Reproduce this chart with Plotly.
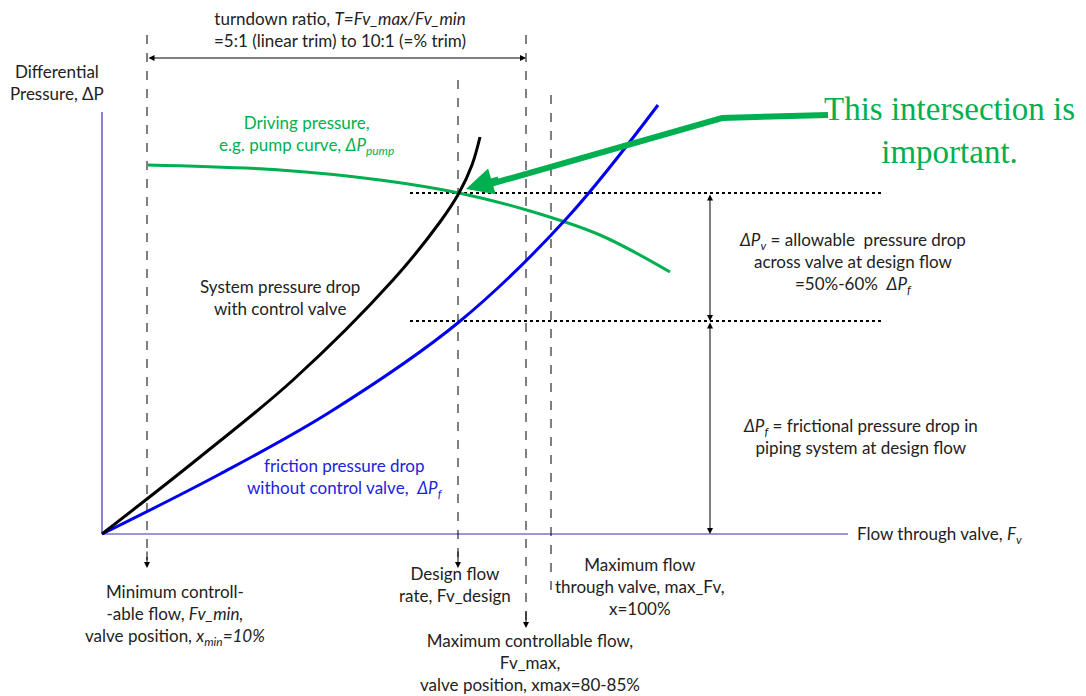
import plotly.graph_objects as go

# ---- curve data (diagram coordinates: x = flow, y = screen-down pressure) ----
system_flow = [102, 200, 293, 393, 440, 459, 472, 480]
system_dp = [534, 457, 380, 280, 222, 193, 165, 137]

friction_flow = [102, 220, 330, 459, 567, 658]
friction_dp = [534, 474, 412, 322, 218, 105]

pump_flow = [148, 280, 380, 459, 530, 600, 670]
pump_dp = [165, 170, 180, 193, 211, 235, 272]

arrow_flow = [828, 722, 480]
arrow_dp = [115, 118, 187]

GREEN = "#00B050"
FONT = "Lato"
FS = 17

fig = go.Figure()

# axes
fig.add_trace(go.Scatter(x=[102, 102], y=[112, 534], mode="lines",
                         line=dict(color="#3333aa", width=1.2), hoverinfo="skip"))
fig.add_trace(go.Scatter(x=[102, 848], y=[534, 534], mode="lines",
                         line=dict(color="#3333aa", width=1.2), hoverinfo="skip"))

# vertical dashed lines
for xv, y0, y1 in [(147, 35, 560), (458, 80, 560), (526, 35, 620), (551, 95, 598)]:
    fig.add_trace(go.Scatter(x=[xv, xv], y=[y0, y1], mode="lines",
                             line=dict(color="black", width=1, dash="dash"), hoverinfo="skip"))

# horizontal dotted lines
for yv in [193, 321]:
    fig.add_trace(go.Scatter(x=[410, 882], y=[yv, yv], mode="lines",
                             line=dict(color="black", width=2, dash="dot"), hoverinfo="skip"))

# curves
fig.add_trace(go.Scatter(x=pump_flow, y=pump_dp, mode="lines", line_shape="spline",
                         line=dict(color=GREEN, width=3), hoverinfo="skip"))
fig.add_trace(go.Scatter(x=friction_flow, y=friction_dp, mode="lines", line_shape="spline",
                         line=dict(color="#0000ee", width=3), hoverinfo="skip"))
fig.add_trace(go.Scatter(x=system_flow, y=system_dp, mode="lines", line_shape="spline",
                         line=dict(color="black", width=3), hoverinfo="skip"))
fig.add_trace(go.Scatter(x=arrow_flow, y=arrow_dp, mode="lines",
                         line=dict(color=GREEN, width=6), hoverinfo="skip"))

ann = []

def arrow(x, y, ax, ay, color="black", width=1, head=2, size=1.2, side="end"):
    ann.append(dict(x=x, y=y, ax=ax, ay=ay, xref="x", yref="y", axref="x", ayref="y",
                    text="", showarrow=True, arrowhead=head, arrowsize=size,
                    arrowwidth=width, arrowcolor=color, arrowside=side,
                    startarrowhead=head, startarrowsize=size))

# arrowheads at bottom of dashed lines
arrow(147, 568, 147, 550)
arrow(458, 568, 458, 550)
arrow(526, 628, 526, 610)
# horizontal double arrow
arrow(526, 58, 147, 58, side="end+start")
# vertical double arrows
arrow(710, 321, 710, 193, side="end+start")
arrow(710, 534, 710, 321, side="end+start")
# green big arrow head
arrow(466, 189, 500, 179, color=GREEN, width=6, head=2, size=0.9)

def text(x, y, s, color="#222", size=FS, align="center", xanchor="center", family=FONT):
    ann.append(dict(x=x, y=y, xref="x", yref="y", text=s, showarrow=False,
                    font=dict(family=family, size=size, color=color),
                    align=align, xanchor=xanchor, yanchor="middle"))

text(340, 29, "turndown ratio, <i>T=Fv_max/Fv_min</i><br>=5:1 (linear trim) to 10:1 (=% trim)")
text(57, 82, "Differential<br>Pressure, ΔP")
text(306, 135, "Driving pressure,<br>e.g. pump curve, <i>ΔP<sub>pump</sub></i>", color=GREEN)
text(949, 130, "This intersection is<br>important.", color=GREEN, size=33,
     family="Liberation Serif")
text(852, 263, "<i>ΔP<sub>v</sub></i> = allowable  pressure drop<br>across valve at design flow<br>=50%-60%  <i>ΔP<sub>f</sub></i>")
text(860, 436, "<i>ΔP<sub>f</sub></i> = frictional pressure drop in<br>piping system at design flow")
text(280, 297, "System pressure drop<br>with control valve")
text(345, 478, "friction pressure drop<br>without control valve,  <i>ΔP<sub>f</sub></i>", color="#2222dd")
text(855, 535, "Flow through valve, <i>F<sub>v</sub></i>", xanchor="left")
text(175, 615, "Minimum controll-<br>-able flow, <i>Fv_min,</i><br>valve position, <i>x<sub>min</sub>=10%</i>")
text(455, 584, "Design flow<br>rate, Fv_design")
text(640, 586, "Maximum flow<br>through valve, max_Fv,<br>x=100%")
text(530, 662, "Maximum controllable flow,<br>Fv_max,<br>valve position, xmax=80-85%")

# page has an 8px body margin: figure sits at (8, 8) in the window
fig.update_layout(
    width=1078, height=688,
    margin=dict(l=0, r=0, t=0, b=0),
    paper_bgcolor="white", plot_bgcolor="white",
    showlegend=False,
    xaxis=dict(range=[8, 1086], visible=False, fixedrange=True),
    yaxis=dict(range=[696, 8], visible=False, fixedrange=True),
    annotations=ann,
)

fig.write_html("out.html",
               post_script="document.body.style.overflow='hidden';")
